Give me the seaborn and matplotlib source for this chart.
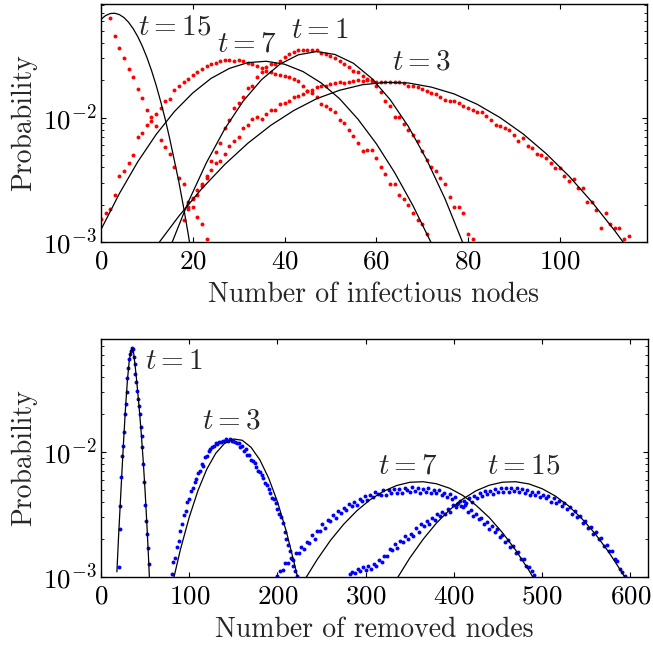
import numpy as np
import matplotlib
matplotlib.use('Agg')
import matplotlib.pyplot as plt
import seaborn as sns
from matplotlib.ticker import LogLocator, NullFormatter, FixedLocator

# ---- top panel: infectious nodes (red = simulation, black = approximation) ----
inf_t15_x = np.arange(2, 24)
inf_t15_p = [0.0627, 0.0452, 0.0362, 0.0303, 0.0247, 0.0211, 0.0171, 0.0144, 0.0116, 0.0101,
             0.0085, 0.0066, 0.0058, 0.0051, 0.0040, 0.0033, 0.0029, 0.0021, 0.0019, 0.0016,
             0.0014, 0.00106]

inf_t7_x = np.arange(0, 72)
inf_t7_p = [0.00152, 0.0017, 0.00185, 0.0024, 0.0034, 0.0037, 0.0043, 0.0050, 0.0070, 0.0075,
            0.0088, 0.0094, 0.0107, 0.0120, 0.0135, 0.0141, 0.0167, 0.0181, 0.0194, 0.0206,
            0.0219, 0.0232, 0.0245, 0.0258, 0.0268, 0.0276, 0.0284, 0.0292, 0.0292, 0.0288,
            0.0292, 0.0284, 0.0274, 0.0268, 0.0258, 0.0252, 0.0239, 0.0232, 0.0225, 0.0222,
            0.0218, 0.0211, 0.0205, 0.0196, 0.0181, 0.0163, 0.0157, 0.0146, 0.0129, 0.0125,
            0.0117, 0.0110, 0.0096, 0.0090, 0.0079, 0.0071, 0.0062, 0.0054, 0.0055, 0.0055,
            0.0047, 0.0040, 0.0035, 0.0029, 0.0029, 0.0024, 0.0022, 0.0020, 0.0017, 0.0015,
            0.0014, 0.00116]

inf_t1_x = np.arange(18, 82)
inf_t1_p = [0.0015, 0.0019, 0.00225, 0.0026, 0.0029, 0.0033, 0.0045, 0.0053, 0.0062, 0.0083,
            0.0095, 0.0120, 0.0131, 0.0146, 0.0174, 0.0181, 0.0214, 0.0232, 0.0255, 0.0268,
            0.0271, 0.0288, 0.0310, 0.0326, 0.0337, 0.0347, 0.0349, 0.0353, 0.0352, 0.0348,
            0.0330, 0.0322, 0.0316, 0.0303, 0.0284, 0.0271, 0.0255, 0.0239, 0.0232, 0.0218,
            0.0205, 0.0196, 0.0181, 0.0160, 0.0136, 0.0125, 0.0101, 0.0102, 0.0089, 0.0080,
            0.0072, 0.0065, 0.0054, 0.0046, 0.0040, 0.0037, 0.0033, 0.0029, 0.0023, 0.0019,
            0.0019, 0.0017, 0.00116, 0.00106]

inf_t3_x = np.arange(19, 116)
inf_t3_p = [0.00185, 0.0022, 0.0024, 0.0028, 0.0034, 0.0038, 0.0043, 0.0045, 0.0051, 0.0059,
            0.0065, 0.0070, 0.0083, 0.0087, 0.0098, 0.0101, 0.0098, 0.0107, 0.0115, 0.0115,
            0.0129, 0.0132, 0.0137, 0.0146, 0.0150, 0.0155, 0.0163, 0.0167, 0.0176, 0.0181,
            0.0181, 0.0187, 0.0189, 0.0193, 0.0189, 0.0193, 0.0196, 0.0201, 0.0196, 0.0199,
            0.0201, 0.0193, 0.0193, 0.0193, 0.0193, 0.0193, 0.0192, 0.0189, 0.0181, 0.0181,
            0.0176, 0.0170, 0.0163, 0.0157, 0.0155, 0.0146, 0.0139, 0.0137, 0.0135, 0.0131,
            0.0125, 0.0120, 0.0115, 0.0110, 0.0110, 0.0104, 0.0096, 0.0087, 0.0085, 0.0083,
            0.0079, 0.0073, 0.0065, 0.0068, 0.0059, 0.0057, 0.0051, 0.0050, 0.0047, 0.0043,
            0.0039, 0.0039, 0.0034, 0.0031, 0.0032, 0.0027, 0.0027, 0.0021, 0.0021, 0.0018,
            0.0013, 0.0017, 0.0014, 0.0013, 0.0013, 0.00106, 0.00112]

# approximation curves (top)
fit_inf_t15_x = [0, 1, 2, 3, 4, 5, 6, 7, 8, 9, 10, 11, 12, 13, 14, 15, 16, 17, 18, 19, 20]
fit_inf_t15_p = [0.0618, 0.0662, 0.0687, 0.0691, 0.0674, 0.0638, 0.0585, 0.0520, 0.0449, 0.0376,
                 0.0305, 0.0240, 0.0183, 0.0135, 0.0097, 0.0067, 0.0045, 0.0030, 0.0019, 0.00116,
                 0.00069]
fit_inf_t7_x = [0, 4, 8, 12, 16, 20, 24, 28, 32, 36, 40, 44, 48, 52, 56, 60, 64, 68, 72]
fit_inf_t7_p = [0.00126, 0.00245, 0.00441, 0.00731, 0.0112, 0.0158, 0.0207, 0.0249, 0.0277, 0.0284,
                0.0269, 0.0235, 0.0190, 0.0142, 0.00973, 0.00618, 0.00362, 0.00196, 0.00098]
fit_inf_t1_x = [15, 19, 23, 27, 31, 35, 39, 43, 47, 51, 55, 59, 63, 67, 71, 75, 79]
fit_inf_t1_p = [0.000895, 0.00209, 0.00436, 0.00815, 0.0136, 0.0202, 0.0269, 0.0320, 0.0340, 0.0322,
                0.0274, 0.0207, 0.0140, 0.00849, 0.00459, 0.00222, 0.000957]
fit_inf_t3_x = [12, 17, 22, 27, 32, 37, 42, 47, 52, 57, 62, 67, 72, 77, 82, 87, 92, 97, 102, 107, 112, 115]
fit_inf_t3_p = [0.00092, 0.00162, 0.00269, 0.00421, 0.00622, 0.00867, 0.0114, 0.0142, 0.0166, 0.0184,
                0.0192, 0.0190, 0.0176, 0.0155, 0.0128, 0.0100, 0.00740, 0.00515, 0.00339, 0.00210,
                0.00123, 0.00087]

# ---- bottom panel: removed nodes (blue = simulation, black = approximation) ----
rem_t1_x = np.arange(20, 55)
rem_t1_p = [0.00120, 0.00240, 0.00372, 0.00631, 0.00933, 0.0112, 0.0145, 0.0200, 0.0240, 0.0302,
            0.0389, 0.0468, 0.0550, 0.0603, 0.0646, 0.0676, 0.0661, 0.0575, 0.0501, 0.0417,
            0.0363, 0.0309, 0.0263, 0.0234, 0.0200, 0.0158, 0.0135, 0.0110, 0.00794, 0.00575,
            0.00380, 0.00282, 0.00219, 0.00170, 0.00126]

rem_t3_p = [0.00105, 0.00132, 0.00141, 0.00174, 0.00195, 0.00234, 0.00263, 0.00316, 0.00339, 0.00398,
            0.00417, 0.00490, 0.00513, 0.00575, 0.00603, 0.00676, 0.00708, 0.00794, 0.00776, 0.00912,
            0.00933, 0.0102, 0.0105, 0.0110, 0.0112, 0.0117, 0.0115, 0.0120, 0.0120, 0.0123,
            0.0123, 0.0126, 0.0123, 0.0126, 0.0123, 0.0123, 0.0120, 0.0117, 0.0117, 0.0110,
            0.0112, 0.0102, 0.0105, 0.0095, 0.0095, 0.0087, 0.0085, 0.0081, 0.0076, 0.0071,
            0.0069, 0.0066, 0.0062, 0.0056, 0.0054, 0.0051, 0.0047, 0.0043, 0.0042, 0.0039,
            0.0035, 0.0032, 0.0030, 0.0027, 0.0023, 0.0020, 0.0018, 0.0016, 0.0014, 0.00122,
            0.00112, 0.00102]
rem_t3_x = np.arange(80, 80 + 2 * len(rem_t3_p), 2)

rem_t7_p = [0.00102, 0.00111, 0.00114, 0.00129, 0.00129, 0.00142, 0.00137, 0.00157, 0.00156, 0.00174,
            0.00167, 0.00190, 0.00187, 0.00215, 0.00202, 0.00233, 0.00234, 0.00265, 0.00248, 0.00287,
            0.00282, 0.00313, 0.00295, 0.00339, 0.00324, 0.00359, 0.00343, 0.00381, 0.00373, 0.00396,
            0.00375, 0.00422, 0.00404, 0.00442, 0.00415, 0.00453, 0.00436, 0.00475, 0.00462, 0.00453,
            0.00494, 0.00454, 0.00497, 0.00472, 0.00509, 0.00473, 0.00504, 0.00471, 0.00519, 0.00497,
            0.00482, 0.00524, 0.00489, 0.00514, 0.00472, 0.00505, 0.00480, 0.00514, 0.00466, 0.00500,
            0.00467, 0.00494, 0.00451, 0.00473, 0.00437, 0.00458, 0.00419, 0.00435, 0.00384, 0.00403,
            0.00366, 0.00377, 0.00334, 0.00344, 0.00305, 0.00321, 0.00289, 0.00298, 0.00264, 0.00275,
            0.00242, 0.00256, 0.00230, 0.00240, 0.00209, 0.00218, 0.00191, 0.00197, 0.00175, 0.00178,
            0.00155, 0.00158, 0.00139, 0.00140, 0.00123, 0.00121, 0.00111, 0.00104]
rem_t7_x = np.arange(200, 200 + 3 * len(rem_t7_p), 3)

rem_t15_p = [0.00105, 0.00109, 0.00107, 0.00115, 0.00111, 0.00120, 0.00113, 0.00122, 0.00115, 0.00128,
             0.00123, 0.00136, 0.00132, 0.00148, 0.00146, 0.00166, 0.00163, 0.00182, 0.00172, 0.00195,
             0.00189, 0.00211, 0.00200, 0.00221, 0.00214, 0.00245, 0.00231, 0.00263, 0.00254, 0.00279,
             0.00264, 0.00296, 0.00286, 0.00318, 0.00305, 0.00333, 0.00320, 0.00352, 0.00333, 0.00380,
             0.00361, 0.00389, 0.00370, 0.00408, 0.00389, 0.00428, 0.00400, 0.00446, 0.00431, 0.00473,
             0.00443, 0.00485, 0.00458, 0.00491, 0.00457, 0.00506, 0.00475, 0.00514, 0.00480, 0.00519,
             0.00479, 0.00513, 0.00489, 0.00519, 0.00474, 0.00504, 0.00471, 0.00500, 0.00452, 0.00480,
             0.00453, 0.00478, 0.00434, 0.00455, 0.00425, 0.00446, 0.00399, 0.00429, 0.00392, 0.00406,
             0.00368, 0.00388, 0.00351, 0.00363, 0.00320, 0.00338, 0.00303, 0.00307, 0.00272, 0.00280,
             0.00248, 0.00252, 0.00219, 0.00229, 0.00203, 0.00205, 0.00178, 0.00180, 0.00160, 0.00162,
             0.00139, 0.00134, 0.00115, 0.00110, 0.00102]
rem_t15_x = np.arange(282, 282 + 3 * len(rem_t15_p), 3)

# approximation curves (bottom)
fit_rem_t1_x = [18, 20, 22, 24, 26, 28, 30, 32, 34, 35, 36, 37, 38, 40, 42, 44, 46, 48, 50, 52, 54, 55]
fit_rem_t1_p = [0.00110, 0.00219, 0.00407, 0.00759, 0.0138, 0.0240, 0.0380, 0.0537, 0.0646, 0.0673,
                0.0668, 0.0617, 0.0537, 0.0398, 0.0282, 0.0195, 0.0129, 0.00813, 0.00479, 0.00263,
                0.00135, 0.00093]
fit_rem_t3_x = [82, 90, 100, 110, 120, 130, 140, 150, 160, 170, 180, 190, 200, 210, 220, 224]
fit_rem_t3_p = [0.00095, 0.00166, 0.00301, 0.00494, 0.00731, 0.00975, 0.0117, 0.0127, 0.0124, 0.0109,
                0.00865, 0.00618, 0.00399, 0.00232, 0.00121, 0.00091]
fit_rem_t7_x = [230, 245, 260, 275, 290, 305, 320, 335, 350, 365, 380, 395, 410, 425, 440, 455, 470, 485, 492]
fit_rem_t7_p = [0.00093, 0.00138, 0.00196, 0.00264, 0.00339, 0.00415, 0.00484, 0.00539, 0.00572, 0.00578,
                0.00557, 0.00513, 0.00449, 0.00375, 0.00299, 0.00226, 0.00164, 0.00113, 0.00093]
fit_rem_t15_x = [335, 350, 365, 380, 395, 410, 425, 440, 455, 470, 485, 500, 515, 530, 545, 560, 575, 590, 597]
fit_rem_t15_p = [0.00096, 0.00142, 0.00200, 0.00269, 0.00344, 0.00420, 0.00489, 0.00542, 0.00573, 0.00578,
                 0.00555, 0.00508, 0.00444, 0.00370, 0.00293, 0.00222, 0.00160, 0.00110, 0.00091]

# curve labels: (text, x, y)
top_labels = [('$t=15$', 16, 0.053), ('$t=7$', 31.7, 0.0386), ('$t=1$', 47.8, 0.050), ('$t=3$', 69.9, 0.0279)]
bottom_labels = [('$t=1$', 83, 0.0522), ('$t=3$', 148, 0.0175), ('$t=7$', 348, 0.00764), ('$t=15$', 479, 0.00764)]

sns.set_style('ticks')
plt.rcParams.update({
    'font.family': ['cmr10', 'DejaVu Serif'],
    'mathtext.fontset': 'cm',
    'axes.formatter.use_mathtext': True,
    'font.size': 20,
    'axes.linewidth': 1.0,
    'axes.edgecolor': 'black',
    'xtick.direction': 'in',
    'ytick.direction': 'in',
    'xtick.top': True,
    'ytick.right': True,
    'xtick.major.size': 3.5,
    'ytick.major.size': 3.5,
    'ytick.minor.size': 2.0,
    'xtick.color': 'black',
    'ytick.color': 'black',
})

fig = plt.figure(figsize=(6.53, 6.46), dpi=100)
ax1 = fig.add_axes([0.1547, 0.6254, 0.836, 0.3684])
ax2 = fig.add_axes([0.1547, 0.1068, 0.8377, 0.3684])

for x, p in [(inf_t15_x, inf_t15_p), (inf_t7_x, inf_t7_p), (inf_t1_x, inf_t1_p), (inf_t3_x, inf_t3_p)]:
    sns.scatterplot(x=x, y=p, color='red', s=8, linewidth=0, ax=ax1, zorder=2)
for x, p in [(fit_inf_t15_x, fit_inf_t15_p), (fit_inf_t7_x, fit_inf_t7_p),
             (fit_inf_t1_x, fit_inf_t1_p), (fit_inf_t3_x, fit_inf_t3_p)]:
    sns.lineplot(x=x, y=p, color='black', linewidth=0.9, sort=False, estimator=None, ax=ax1, zorder=3)

for x, p in [(rem_t1_x, rem_t1_p), (rem_t3_x, rem_t3_p), (rem_t7_x, rem_t7_p), (rem_t15_x, rem_t15_p)]:
    sns.scatterplot(x=x, y=p, color='blue', s=8, linewidth=0, ax=ax2, zorder=2)
for x, p in [(fit_rem_t1_x, fit_rem_t1_p), (fit_rem_t3_x, fit_rem_t3_p),
             (fit_rem_t7_x, fit_rem_t7_p), (fit_rem_t15_x, fit_rem_t15_p)]:
    sns.lineplot(x=x, y=p, color='black', linewidth=0.9, sort=False, estimator=None, ax=ax2, zorder=3)

for ax, xmax, ymax, xt, labels, xlabel in [
        (ax1, 119, 0.082, [0, 20, 40, 60, 80, 100], top_labels, 'Number of infectious nodes'),
        (ax2, 620, 0.080, [0, 100, 200, 300, 400, 500, 600], bottom_labels, 'Number of removed nodes')]:
    ax.set_yscale('log')
    ax.set_xlim(0, xmax)
    ax.set_ylim(1e-3, ymax)
    ax.xaxis.set_major_locator(FixedLocator(xt))
    ax.yaxis.set_major_locator(LogLocator(base=10))
    ax.yaxis.set_minor_locator(LogLocator(base=10, subs=np.arange(2, 10)))
    ax.yaxis.set_minor_formatter(NullFormatter())
    ax.tick_params(axis='both', which='both', direction='in', top=True, right=True, labelsize=19.5)
    ax.tick_params(axis='x', which='major', pad=5.5)
    ax.tick_params(axis='y', which='major', pad=3)
    ax.set_xlabel(xlabel, fontsize=20, labelpad=6)
    ax.set_ylabel('Probability', fontsize=20, labelpad=4)
    for s in ax.spines.values():
        s.set_visible(True)
    for txt, tx, ty in labels:
        ax.text(tx, ty, txt, fontsize=21, ha='center', va='center')

fig.savefig('out.png', dpi=100)
